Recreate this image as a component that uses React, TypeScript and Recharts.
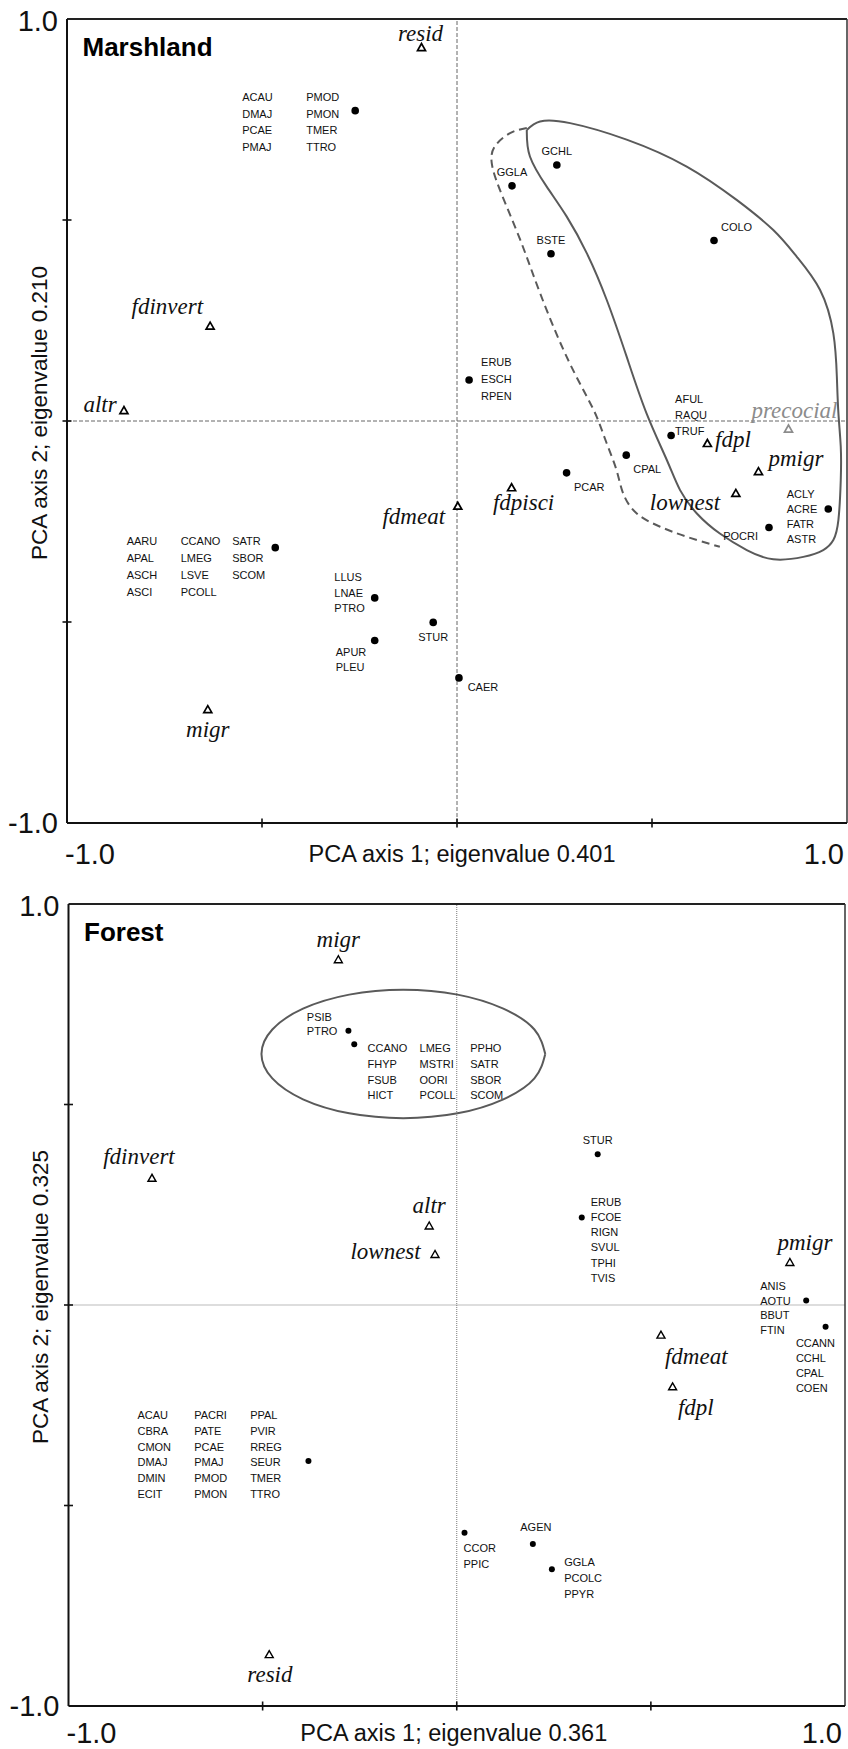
import { ScatterChart, Scatter, XAxis, YAxis, ReferenceLine } from 'recharts'

const SANS = '"Liberation Sans", Arial, Helvetica, sans-serif'
const SERIF = '"Liberation Serif", "Times New Roman", serif'

const axisTicks = [-1, -0.5, 0, 0.5, 1]
const endTickLabels = ['-1.0', '1.0']

// ---------- Marshland ----------
const marshSpeciesLabels = [
  [['ACAU', 'DMAJ', 'PCAE', 'PMAJ'], ['PMOD', 'PMON', 'TMER', 'TTRO']],
  [['GCHL']],
  [['GGLA']],
  [['BSTE']],
  [['COLO']],
  [['ERUB', 'ESCH', 'RPEN']],
  [['AFUL', 'RAQU', 'TRUF']],
  [['CPAL']],
  [['PCAR']],
  [['ACLY', 'ACRE', 'FATR', 'ASTR']],
  [['POCRI']],
  [['STUR']],
  [['CAER']],
  [['AARU', 'APAL', 'ASCH', 'ASCI'], ['CCANO', 'LMEG', 'LSVE', 'PCOLL'], ['SATR', 'SBOR', 'SCOM']],
  [['LLUS', 'LNAE', 'PTRO']],
  [['APUR', 'PLEU']],
]
const marshSpeciesPc1 = [-0.261, 0.256, 0.141, 0.241, 0.659, 0.031, 0.549, 0.434, 0.281, 0.952, 0.8, -0.061, 0.005, -0.466, -0.211, -0.211]
const marshSpeciesPc2 = [0.772, 0.637, 0.585, 0.416, 0.449, 0.102, -0.036, -0.085, -0.129, -0.219, -0.265, -0.501, -0.639, -0.315, -0.44, -0.546]

const marshTraits = ['resid', 'fdinvert', 'altr', 'precocial', 'fdpl', 'pmigr', 'fdpisci', 'fdmeat', 'lownest', 'migr']
const marshTraitPc1 = [-0.091, -0.633, -0.854, 0.85, 0.642, 0.773, 0.14, 0.002, 0.715, -0.639]
const marshTraitPc2 = [0.929, 0.236, 0.026, -0.02, -0.056, -0.126, -0.166, -0.212, -0.18, -0.718]

// group outlines (solid = closed, dashed = open)
const marshSolidPc1 = [0.179, 0.187, 0.23, 0.281, 0.333, 0.384, 0.435, 0.486, 0.538, 0.572, 0.615, 0.674, 0.743, 0.811, 0.888, 0.939, 0.965, 0.978, 0.984, 0.984, 0.978, 0.974, 0.965, 0.931, 0.871, 0.811, 0.717, 0.589, 0.435, 0.29, 0.213, 0.179]
const marshSolidPc2 = [0.724, 0.658, 0.583, 0.509, 0.417, 0.301, 0.16, 0.019, -0.097, -0.172, -0.23, -0.28, -0.321, -0.344, -0.338, -0.321, -0.296, -0.246, -0.147, -0.064, 0.019, 0.11, 0.218, 0.326, 0.409, 0.475, 0.55, 0.633, 0.7, 0.741, 0.745, 0.724]
const marshDashedPc1 = [0.179, 0.136, 0.097, 0.089, 0.11, 0.162, 0.213, 0.273, 0.324, 0.358, 0.384, 0.409, 0.426, 0.461, 0.521, 0.589, 0.674]
const marshDashedPc2 = [0.729, 0.716, 0.683, 0.642, 0.575, 0.451, 0.318, 0.177, 0.077, 0.011, -0.056, -0.122, -0.18, -0.23, -0.263, -0.288, -0.313]

// ---------- Forest ----------
const forestSpeciesLabels = [
  [['PSIB', 'PTRO']],
  [['CCANO', 'FHYP', 'FSUB', 'HICT'], ['LMEG', 'MSTRI', 'OORI', 'PCOLL'], ['PPHO', 'SATR', 'SBOR', 'SCOM']],
  [['STUR']],
  [['ERUB', 'FCOE', 'RIGN', 'SVUL', 'TPHI', 'TVIS']],
  [['ANIS', 'AOTU', 'BBUT', 'FTIN']],
  [['CCANN', 'CCHL', 'CPAL', 'COEN']],
  [['CCOR', 'PPIC']],
  [['AGEN']],
  [['GGLA', 'PCOLC', 'PPYR']],
  [
    ['ACAU', 'CBRA', 'CMON', 'DMAJ', 'DMIN', 'ECIT'],
    ['PACRI', 'PATE', 'PCAE', 'PMAJ', 'PMOD', 'PMON'],
    ['PPAL', 'PVIR', 'RREG', 'SEUR', 'TMER', 'TTRO'],
  ],
]
const forestSpeciesPc1 = [-0.279, -0.264, 0.363, 0.322, 0.9, 0.95, 0.02, 0.196, 0.245, -0.382]
const forestSpeciesPc2 = [0.684, 0.65, 0.376, 0.218, 0.011, -0.054, -0.568, -0.596, -0.659, -0.389]

const forestTraits = ['migr', 'fdinvert', 'altr', 'lownest', 'pmigr', 'fdmeat', 'fdpl', 'resid']
const forestTraitPc1 = [-0.305, -0.785, -0.071, -0.056, 0.858, 0.526, 0.556, -0.483]
const forestTraitPc2 = [0.861, 0.316, 0.197, 0.126, 0.106, -0.075, -0.204, -0.872]

const forestEllipsePc1 = [0.228, 0.2, 0.12, 0.002, -0.138, -0.277, -0.396, -0.475, -0.503, -0.475, -0.396, -0.277, -0.138, 0.002, 0.12, 0.2, 0.228]
const forestEllipsePc2 = [0.626, 0.687, 0.739, 0.774, 0.786, 0.774, 0.739, 0.687, 0.626, 0.565, 0.513, 0.478, 0.466, 0.478, 0.513, 0.565, 0.626]

// ---------- label layout (pixels, relative to marker) ----------
type Anchor = 'start' | 'middle' | 'end'
interface GroupPos { dx: number[]; dy: number; gap?: number; anchor: Anchor }
interface TraitPos { dx: number; dy: number; anchor: Anchor }

const marshSpeciesPos: GroupPos[] = [
  { dx: [-113, -49], dy: -13.5, gap: 16.5, anchor: 'start' },
  { dx: [0], dy: -14, anchor: 'middle' },
  { dx: [0], dy: -14, anchor: 'middle' },
  { dx: [0], dy: -14, anchor: 'middle' },
  { dx: [7], dy: -14, anchor: 'start' },
  { dx: [12], dy: -18.3, gap: 17, anchor: 'start' },
  { dx: [4], dy: -36, gap: 15.8, anchor: 'start' },
  { dx: [7], dy: 14.3, anchor: 'start' },
  { dx: [7.3], dy: 14, anchor: 'start' },
  { dx: [-41.5], dy: -15.5, gap: 15.3, anchor: 'start' },
  { dx: [-11], dy: 8.7, anchor: 'end' },
  { dx: [0], dy: 14.4, anchor: 'middle' },
  { dx: [8.7], dy: 9.6, anchor: 'start' },
  { dx: [-148.6, -94.6, -43], dy: -7, gap: 17.1, anchor: 'start' },
  { dx: [-40.4], dy: -21, gap: 15.8, anchor: 'start' },
  { dx: [-39], dy: 11.4, gap: 15, anchor: 'start' },
]
const marshTraitPos: TraitPos[] = [
  { dx: -1, dy: -7, anchor: 'middle' },
  { dx: -7, dy: -12.5, anchor: 'end' },
  { dx: -7.3, dy: 1, anchor: 'end' },
  { dx: 6, dy: -10.7, anchor: 'middle' },
  { dx: 7.7, dy: 3.4, anchor: 'start' },
  { dx: 10, dy: -5.7, anchor: 'start' },
  { dx: 12, dy: 22.3, anchor: 'middle' },
  { dx: -12.7, dy: 17.3, anchor: 'end' },
  { dx: -15.7, dy: 16.7, anchor: 'end' },
  { dx: 0, dy: 27.4, anchor: 'middle' },
]
const forestSpeciesPos: GroupPos[] = [
  { dx: [-41.6], dy: -14, gap: 14, anchor: 'start' },
  { dx: [13.3, 65.3, 116], dy: 4, gap: 15.6, anchor: 'start' },
  { dx: [0], dy: -14.3, anchor: 'middle' },
  { dx: [9], dy: -16, gap: 15.3, anchor: 'start' },
  { dx: [-46], dy: -14.7, gap: 14.7, anchor: 'start' },
  { dx: [-29.7], dy: 16.6, gap: 15, anchor: 'start' },
  { dx: [-1], dy: 15, gap: 16.3, anchor: 'start' },
  { dx: [3], dy: -17.3, anchor: 'middle' },
  { dx: [12.3], dy: -7, gap: 15.9, anchor: 'start' },
  { dx: [-171, -114.3, -58.3], dy: -46, gap: 15.8, anchor: 'start' },
]
const forestTraitPos: TraitPos[] = [
  { dx: 0, dy: -12.7, anchor: 'middle' },
  { dx: -13, dy: -14.3, anchor: 'middle' },
  { dx: 0, dy: -13.3, anchor: 'middle' },
  { dx: -14.3, dy: 5, anchor: 'end' },
  { dx: 15, dy: -12, anchor: 'middle' },
  { dx: 4, dy: 29, anchor: 'start' },
  { dx: 5.3, dy: 28.3, anchor: 'start' },
  { dx: 0.7, dy: 27.4, anchor: 'middle' },
]

const mutedTraits = ['precocial']

interface Outline { pc1: number[]; pc2: number[]; dash?: string }

interface PanelProps {
  top: number
  height: number
  margin: { top: number; right: number; bottom: number; left: number }
  title: string
  xTitle: string
  yTitle: string
  xTitleShift: number
  xLabelDy: number
  speciesLabels: string[][][]
  speciesPc1: number[]
  speciesPc2: number[]
  speciesPos: GroupPos[]
  traits: string[]
  traitPc1: number[]
  traitPc2: number[]
  traitPos: TraitPos[]
  outlines: Outline[]
  zeroDash: string
  zeroColor: string
  dotR: number
  triStroke: number
}

function XTick({ x, y, payload, labelDy }: any) {
  const v = payload.value
  if (v === -1 || v === 1) {
    return (
      <text x={v === -1 ? x - 2 : x - 3} y={y + labelDy} textAnchor={v === -1 ? 'start' : 'end'}
        dominantBaseline="central" fontFamily={SANS} fontSize={29} fill="#111">
        {endTickLabels[v === -1 ? 0 : 1]}
      </text>
    )
  }
  return <line x1={x} x2={x} y1={y - 4.5} y2={y + 4.5} stroke="#111" strokeWidth={1.6} />
}

function YTick({ x, y, payload }: any) {
  const v = payload.value
  if (v === -1 || v === 1) {
    return (
      <text x={x - 9} y={y + (v === 1 ? 2 : 0)} textAnchor="end" dominantBaseline="central"
        fontFamily={SANS} fontSize={29} fill="#111">
        {endTickLabels[v === -1 ? 0 : 1]}
      </text>
    )
  }
  return <line x1={x - 4.5} x2={x + 4.5} y1={y} y2={y} stroke="#111" strokeWidth={1.6} />
}

function PcaPanel(p: PanelProps) {
  const species = p.speciesPc1.map((x, i) => ({ x, y: p.speciesPc2[i], i }))
  const traits = p.traitPc1.map((x, i) => ({ x, y: p.traitPc2[i], i }))

  const speciesShape = (sp: any) => {
    const { cx, cy, payload } = sp
    const pos = p.speciesPos[payload.i]
    const cols = p.speciesLabels[payload.i]
    return (
      <g>
        <circle cx={cx} cy={cy} r={p.dotR} fill="#000" />
        {cols.map((col, c) =>
          col.map((name, r) => (
            <text key={`${c}-${r}`} x={cx + pos.dx[c]} y={cy + pos.dy + r * (pos.gap ?? 0)}
              textAnchor={pos.anchor} dominantBaseline="central" fontFamily={SANS} fontSize={11} fill="#111">
              {name}
            </text>
          )),
        )}
      </g>
    )
  }

  const traitShape = (tp: any) => {
    const { cx, cy, payload } = tp
    const name = p.traits[payload.i]
    const pos = p.traitPos[payload.i]
    const color = mutedTraits.includes(name) ? '#8c8c8c' : '#000'
    return (
      <g>
        <polygon points={`${cx},${cy - 4} ${cx - 4},${cy + 3} ${cx + 4},${cy + 3}`}
          fill="#fff" stroke={color} strokeWidth={p.triStroke} strokeLinejoin="miter" />
        <text x={cx + pos.dx} y={cy + pos.dy} textAnchor={pos.anchor} fontFamily={SERIF}
          fontStyle="italic" fontSize={23} fill={mutedTraits.includes(name) ? '#8c8c8c' : '#111'}>
          {name}
        </text>
      </g>
    )
  }

  return (
    <div style={{ position: 'absolute', left: 0, top: p.top }}>
      <ScatterChart width={848} height={p.height} margin={p.margin}>
        <XAxis type="number" dataKey="x" domain={[-1, 1]} ticks={axisTicks} interval={0}
          tick={(t: any) => <XTick {...t} labelDy={p.xLabelDy} />} tickLine={false} tickSize={0} tickMargin={0}
          axisLine={{ stroke: '#111', strokeWidth: 2 }} height={40}
          label={(lp: any) => {
            const vb = lp.viewBox || { x: 0, y: 0, width: 0 }
            return (
              <text x={vb.x + vb.width / 2 + p.xTitleShift} y={vb.y + p.xLabelDy} textAnchor="middle"
                dominantBaseline="central" fontFamily={SANS} fontSize={23.5} fill="#111">
                {p.xTitle}
              </text>
            )
          }} />
        <YAxis type="number" dataKey="y" domain={[-1, 1]} ticks={axisTicks} interval={0}
          tick={(t: any) => <YTick {...t} />} tickLine={false} tickSize={0} tickMargin={0}
          axisLine={{ stroke: '#111', strokeWidth: 2 }} width={60}
          label={(lp: any) => {
            const vb = lp.viewBox || { x: 0, y: 0, height: 0 }
            const cx = vb.x + 32
            const cy = vb.y + vb.height / 2 - 8
            return (
              <text x={cx} y={cy} transform={`rotate(-90, ${cx}, ${cy})`} textAnchor="middle"
                dominantBaseline="central" fontFamily={SANS} fontSize={22.5} fill="#111">
                {p.yTitle}
              </text>
            )
          }} />
        <ReferenceLine y={0} stroke={p.zeroColor} strokeWidth={1} strokeDasharray={p.zeroDash} />
        <ReferenceLine x={0} stroke={p.zeroColor} strokeWidth={1} strokeDasharray={p.zeroDash} />
        <ReferenceLine y={1} stroke="#222" strokeWidth={2}
          label={(lp: any) => {
            const vb = lp.viewBox || { x: 0, y: 0 }
            return (
              <text x={vb.x + 15.5} y={vb.y + 28} dominantBaseline="central" fontFamily={SANS}
                fontWeight="bold" fontSize={26} fill="#000">
                {p.title}
              </text>
            )
          }} />
        <ReferenceLine x={1} stroke="#333" strokeWidth={1.5} />
        {p.outlines.map((o, k) => (
          <Scatter key={k} data={o.pc1.map((x, i) => ({ x, y: o.pc2[i] }))} line={{ stroke: '#5a5a5a', strokeWidth: 2, strokeDasharray: o.dash }}
            lineType="joint" lineJointType="natural" shape={() => <g />} isAnimationActive={false} legendType="none" />
        ))}
        <Scatter data={species} shape={speciesShape} isAnimationActive={false} legendType="none" />
        <Scatter data={traits} shape={traitShape} isAnimationActive={false} legendType="none" />
      </ScatterChart>
    </div>
  )
}

export default function App() {
  return (
    <div style={{ position: 'absolute', left: 0, top: 0, width: 848, height: 1749, background: '#fff', overflow: 'hidden' }}>
      <PcaPanel
        top={0}
        height={870}
        margin={{ top: 19, right: 1, bottom: 7, left: 7 }}
        title="Marshland"
        xTitle="PCA axis 1; eigenvalue 0.401"
        yTitle="PCA axis 2; eigenvalue 0.210"
        xTitleShift={5}
        xLabelDy={31}
        speciesLabels={marshSpeciesLabels}
        speciesPc1={marshSpeciesPc1}
        speciesPc2={marshSpeciesPc2}
        speciesPos={marshSpeciesPos}
        traits={marshTraits}
        traitPc1={marshTraitPc1}
        traitPc2={marshTraitPc2}
        traitPos={marshTraitPos}
        outlines={[
          { pc1: marshSolidPc1, pc2: marshSolidPc2 },
          { pc1: marshDashedPc1, pc2: marshDashedPc2, dash: '8 5' },
        ]}
        zeroDash="4 2"
        zeroColor="#666"
        dotR={3.8}
        triStroke={1.7}
      />
      <PcaPanel
        top={870}
        height={879}
        margin={{ top: 34, right: 3, bottom: 3, left: 8.5 }}
        title="Forest"
        xTitle="PCA axis 1; eigenvalue 0.361"
        yTitle="PCA axis 2; eigenvalue 0.325"
        xTitleShift={-3}
        xLabelDy={26.5}
        speciesLabels={forestSpeciesLabels}
        speciesPc1={forestSpeciesPc1}
        speciesPc2={forestSpeciesPc2}
        speciesPos={forestSpeciesPos}
        traits={forestTraits}
        traitPc1={forestTraitPc1}
        traitPc2={forestTraitPc2}
        traitPos={forestTraitPos}
        outlines={[{ pc1: forestEllipsePc1, pc2: forestEllipsePc2 }]}
        zeroDash="1 1"
        zeroColor="#777"
        dotR={3}
        triStroke={1.4}
      />
    </div>
  )
}
